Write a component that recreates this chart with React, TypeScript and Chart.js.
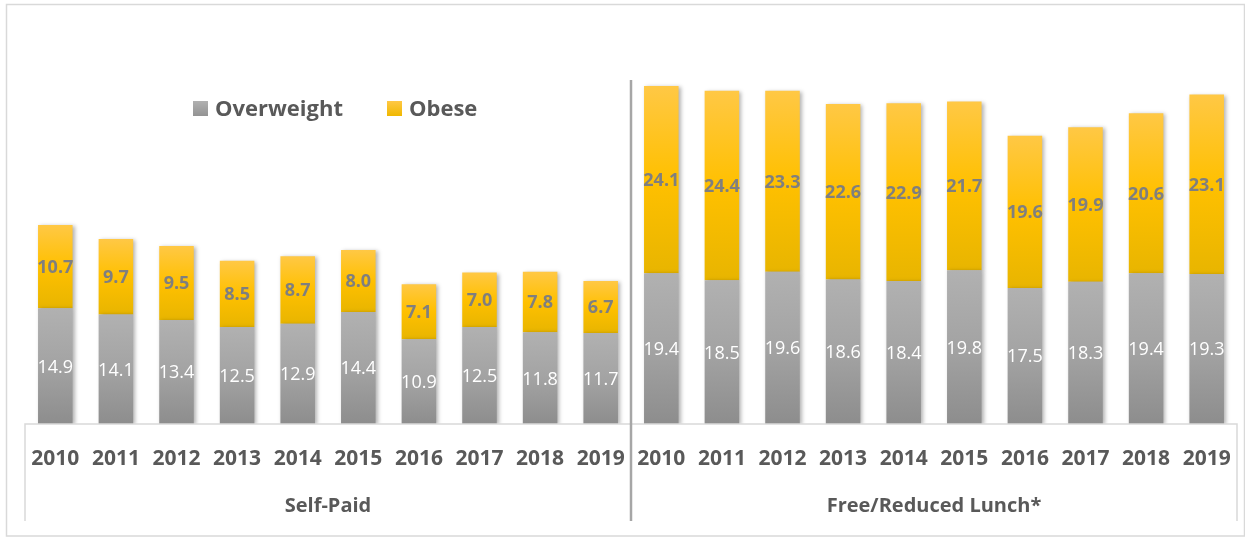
import React, { useEffect, useRef } from "react";
import { Chart, registerables } from "chart.js";

Chart.register(...registerables);

const years = ["2010", "2011", "2012", "2013", "2014", "2015", "2016", "2017", "2018", "2019"];
const groups = ["Self-Paid", "Free/Reduced Lunch*"];
const overweightSelfPaid = [14.9, 14.1, 13.4, 12.5, 12.9, 14.4, 10.9, 12.5, 11.8, 11.7];
const obeseSelfPaid = [10.7, 9.7, 9.5, 8.5, 8.7, 8.0, 7.1, 7.0, 7.8, 6.7];
const overweightFree = [19.4, 18.5, 19.6, 18.6, 18.4, 19.8, 17.5, 18.3, 19.4, 19.3];
const obeseFree = [24.1, 24.4, 23.3, 22.6, 22.9, 21.7, 19.6, 19.9, 20.6, 23.1];
const seriesNames = ["Overweight", "Obese"];

const labels = [...years, ...years];
const overweight = [...overweightSelfPaid, ...overweightFree];
const obese = [...obeseSelfPaid, ...obeseFree];

const FONT = "'Open Sans', 'DejaVu Sans', sans-serif";
const TEXT = "#595959";

function gradFor(ctxArg: any, stops: [number, string][], solid: string) {
  const c = ctxArg;
  if (c.type !== "data") return solid;
  const chart = c.chart;
  const y = chart.scales && chart.scales.y;
  if (!y) return solid;
  const i = c.dataIndex;
  const base = c.datasetIndex === 0 ? 0 : overweight[i];
  const top = base + (c.datasetIndex === 0 ? overweight[i] : obese[i]);
  const y0 = y.getPixelForValue(top);
  const y1 = y.getPixelForValue(base);
  if (!isFinite(y0) || !isFinite(y1) || y0 === y1) return solid;
  const g = chart.ctx.createLinearGradient(0, y0, 0, y1);
  stops.forEach(([o, col]) => g.addColorStop(o, col));
  return g;
}

const grayStops: [number, string][] = [
  [0, "#B1B1B1"],
  [0.5, "#A3A3A3"],
  [1, "#8D8D8D"],
];
const yellowStops: [number, string][] = [
  [0, "#FFC845"],
  [0.5, "#FFC000"],
  [1, "#E8B500"],
];

const decorPlugin = {
  id: "decor",
  beforeDatasetsDraw(chart: any) {
    const ctx = chart.ctx;
    ctx.save();
    ctx.shadowColor = "rgba(0,0,0,0.30)";
    ctx.shadowBlur = 4;
    ctx.shadowOffsetX = 2;
    ctx.shadowOffsetY = 1;
  },
  afterDatasetsDraw(chart: any) {
    chart.ctx.restore();
  },
  afterDraw(chart: any) {
    const ctx = chart.ctx;
    const x = chart.scales.x;
    const area = chart.chartArea;
    const W = chart.width;
    ctx.save();

    // outer border
    ctx.strokeStyle = "#D9D9D9";
    ctx.lineWidth = 1.5;
    ctx.strokeRect(6.5, 4.5, W - 6.5 - 0.5, 536 - 4.5);

    // axis box
    const n = labels.length;
    const step = (area.right - area.left) / n;
    const boxBottom = 521;
    ctx.strokeStyle = "#D9D9D9";
    ctx.lineWidth = 1.5;
    ctx.beginPath();
    ctx.moveTo(area.left, boxBottom);
    ctx.lineTo(area.left, area.bottom);
    ctx.lineTo(area.right, area.bottom);
    ctx.lineTo(area.right, boxBottom);
    ctx.stroke();

    // divider
    const divX = (x.getPixelForValue(9) + x.getPixelForValue(10)) / 2;
    ctx.strokeStyle = "#A6A6A6";
    ctx.lineWidth = 2.5;
    ctx.beginPath();
    ctx.moveTo(divX, 80);
    ctx.lineTo(divX, boxBottom);
    ctx.stroke();

    // year labels
    ctx.fillStyle = TEXT;
    ctx.textAlign = "center";
    ctx.textBaseline = "alphabetic";
    ctx.font = `bold 21px ${FONT}`;
    labels.forEach((lab, i) => {
      ctx.fillText(lab, x.getPixelForValue(i), 465);
    });

    // group labels
    ctx.font = `bold 20px ${FONT}`;
    groups.forEach((g, gi) => {
      const cx = (x.getPixelForValue(gi * 10) + x.getPixelForValue(gi * 10 + 9)) / 2;
      ctx.fillText(g, cx, 512);
    });

    // data labels
    const m0 = chart.getDatasetMeta(0);
    const m1 = chart.getDatasetMeta(1);
    const lsize = 18;
    m0.data.forEach((el: any, i: number) => {
      const cy = (el.y + el.base) / 2;
      ctx.font = `${lsize}px ${FONT}`;
      ctx.fillStyle = "#FFFFFF";
      ctx.fillText(overweight[i].toFixed(1), el.x, cy + lsize * 0.357);
    });
    m1.data.forEach((el: any, i: number) => {
      const cy = (el.y + el.base) / 2;
      ctx.font = `bold ${lsize}px ${FONT}`;
      ctx.fillStyle = "#7F7F7F";
      ctx.fillText(obese[i].toFixed(1), el.x, cy + lsize * 0.357);
    });

    // legend
    ctx.font = `bold 22px ${FONT}`;
    ctx.textAlign = "left";
    const legendItems = [
      { x: 193, color: "#A5A5A5", text: seriesNames[0] },
      { x: 387, color: "#FFC000", text: seriesNames[1] },
    ];
    legendItems.forEach((it) => {
      const g = ctx.createLinearGradient(0, 101, 0, 116);
      if (it.color === "#FFC000") {
        g.addColorStop(0, "#FFC845");
        g.addColorStop(1, "#F0B800");
      } else {
        g.addColorStop(0, "#B1B1B1");
        g.addColorStop(1, "#939393");
      }
      ctx.fillStyle = g;
      ctx.fillRect(it.x, 101, 15, 15);
      ctx.fillStyle = TEXT;
      ctx.fillText(it.text, it.x + 22, 115.5);
    });

    ctx.restore();
  },
};

export default function App() {
  const ref = useRef<HTMLCanvasElement | null>(null);
  useEffect(() => {
    if (!ref.current) return;
    const chart = new Chart(ref.current, {
      type: "bar",
      data: {
        labels,
        datasets: [
          {
            label: seriesNames[0],
            data: overweight,
            backgroundColor: (c: any) => gradFor(c, grayStops, "#A5A5A5"),
            borderWidth: 0,
            barPercentage: 0.57,
            categoryPercentage: 1,
            stack: "s",
          },
          {
            label: seriesNames[1],
            data: obese,
            backgroundColor: (c: any) => gradFor(c, yellowStops, "#FFC000"),
            borderWidth: 0,
            barPercentage: 0.57,
            categoryPercentage: 1,
            stack: "s",
          },
        ],
      },
      options: {
        animation: false,
        responsive: true,
        maintainAspectRatio: false,
        layout: { padding: { left: 25, right: 8, top: 20, bottom: 114 } },
        plugins: {
          legend: { display: false },
          tooltip: { enabled: false },
        },
        scales: {
          x: { display: false, stacked: true },
          y: { display: false, stacked: true, min: 0, max: 52 },
        },
      },
      plugins: [decorPlugin],
    });
    return () => chart.destroy();
  }, []);

  return (
    <div
      style={{
        position: "fixed",
        left: 0,
        top: 0,
        width: 1245,
        height: 538,
        background: "#FFFFFF",
      }}
    >
      <canvas ref={ref} />
    </div>
  );
}
